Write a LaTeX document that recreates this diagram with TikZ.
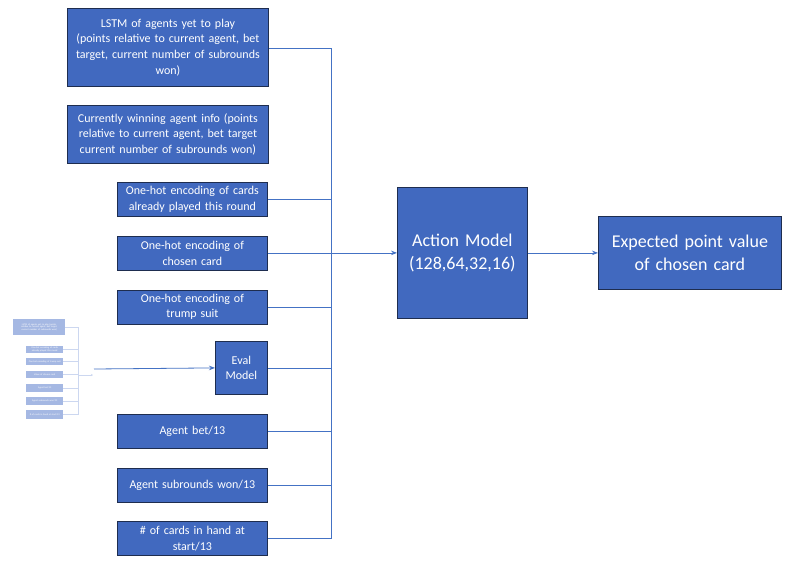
\documentclass[tikz,border=0pt]{standalone}
\usepackage{fontspec}
\setmainfont{Carlito}
\usetikzlibrary{arrows.meta}
\definecolor{boxfill}{HTML}{4169BF}
\definecolor{boxline}{HTML}{1E2D4F}
\definecolor{conn}{HTML}{4472C4}
\definecolor{thumbfill}{HTML}{A5B8E3}
\definecolor{thumbline}{HTML}{CCD7F0}
\begin{document}
\begin{tikzpicture}[x=1pt,y=-1pt,
  inbox/.style={draw=boxline,fill=boxfill,line width=0.8pt,text=white,anchor=north west,inner sep=1pt,align=center,font=\fontsize{12}{15.6}\selectfont},
  bigbox/.style={inbox,font=\fontsize{18}{23}\selectfont},
  tbox/.style={draw=none,fill=thumbfill,text=white,anchor=north west,inner sep=0.3pt,align=center,font=\fontsize{2.4}{2.9}\selectfont},
  conline/.style={draw=conn,line width=0.8pt},
  tline/.style={draw=thumbline,line width=0.5pt},
  arr/.style={conline,-{Stealth[length=6pt,width=4.5pt]}}
]
\useasboundingbox[fill=white] (0,0) rectangle (799,562);

% thumbnail of earlier version
\node[tbox,minimum width=52pt,minimum height=16pt,text width=50pt] (ta) at (13,319) {LSTM of agents yet to play (points relative to current agent, bet target, current number of subrounds won)};
\node[tbox,minimum width=37pt,minimum height=7pt,text width=36pt] (tb) at (26,346) {One-hot encoding of cards already played this round};
\node[tbox,minimum width=37pt,minimum height=7pt,text width=36pt] (tc) at (26,358) {One-hot encoding of trump suit};
\node[tbox,minimum width=37pt,minimum height=7pt,text width=36pt] (td) at (26,371) {Value of chosen card};
\node[tbox,minimum width=37pt,minimum height=8pt,text width=36pt] (te) at (26,384) {Agent bet/13};
\node[tbox,minimum width=37pt,minimum height=8pt,text width=36pt] (tf) at (26,397) {Agent subrounds won/13};
\node[tbox,minimum width=37pt,minimum height=9pt,text width=36pt] (tg) at (26,410) {\# of cards in hand at start/13};
\coordinate (ttop) at (78,327);
\coordinate (tbot) at (78,414.5);
\draw[tline] (ttop) -- (tbot);
\foreach \n in {ta,tb,tc,td,te,tf,tg} \draw[tline] (\n.east) -- (\n.east -| ttop);
\coordinate (tend) at (93,375);
\draw[tline,-{Stealth[length=2pt,width=2pt]}] (ttop |- tend) -- (tend);
\coordinate (tsrc) at (94,369);

% input boxes
\node[inbox,minimum width=201pt,minimum height=78pt,text width=199pt] (b1) at (67,8) {LSTM of agents yet to play\\(points relative to current agent, bet\\target, current number of subrounds\\won)};
\node[inbox,minimum width=201pt,minimum height=58pt,text width=199pt] (b2) at (67,105) {Currently winning agent info (points\\relative to current agent, bet target\\current number of subrounds won)};
\node[inbox,minimum width=150pt,minimum height=34pt,text width=148pt] (b3) at (117,182) {One-hot encoding of cards\\already played this round};
\node[inbox,minimum width=150pt,minimum height=34pt,text width=148pt] (b4) at (117,236) {One-hot encoding of\\chosen card};
\node[inbox,minimum width=150pt,minimum height=34pt,text width=148pt] (b5) at (117,289.5) {One-hot encoding of\\trump suit};
\node[inbox,minimum width=52pt,minimum height=53pt,text width=50pt] (ev) at (215,341) {Eval\\Model};
\node[inbox,minimum width=150pt,minimum height=34pt,text width=148pt] (b6) at (117,414) {Agent bet/13};
\node[inbox,minimum width=150pt,minimum height=34pt,text width=148pt] (b7) at (117,467.5) {Agent subrounds won/13};
\node[inbox,minimum width=150pt,minimum height=34pt,text width=148pt] (b8) at (117,521) {\# of cards in hand at\\start/13};

\node[bigbox,minimum width=130pt,minimum height=131pt,text width=128pt] (act) at (397,187) {Action Model\\(128,64,32,16)};
\node[bigbox,minimum width=183pt,minimum height=73pt,text width=181pt] (out) at (598,216) {Expected point value\\of chosen card};

% bus
\coordinate (bustop) at (331.5,48);
\coordinate (busbot) at (331.5,538);
\draw[conline] (bustop) -- (busbot);
\draw[conline] (b1.east |- bustop) -- (bustop);
\foreach \n in {b3,b4,b5,ev,b6,b7} \draw[conline] (\n.east) -- (\n.east -| bustop);
\draw[conline] (b8.east |- busbot) -- (busbot);

\draw[arr] (tsrc) -- (ev.west);
\draw[arr] (bustop |- act.west) -- (act.west);
\draw[arr] (act.east) -- (out.west);
\end{tikzpicture}
\end{document}
